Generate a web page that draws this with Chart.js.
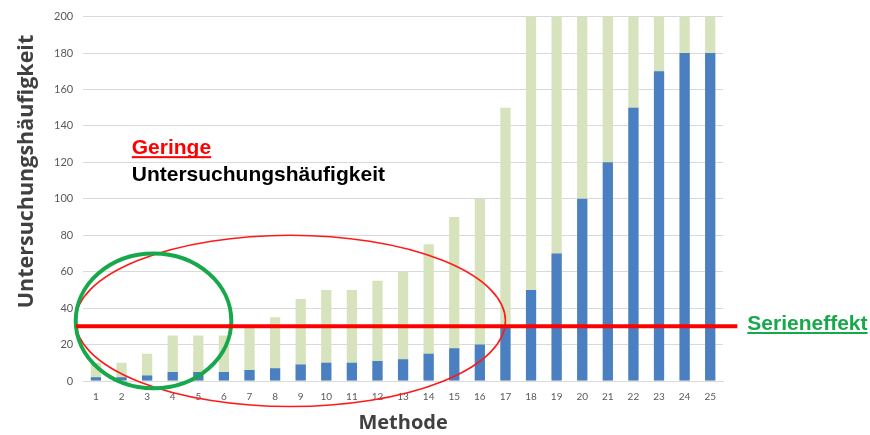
<!DOCTYPE html>
<html>
<head>
<meta charset="utf-8">
<script src="https://cdn.jsdelivr.net/npm/chart.js@4/dist/chart.umd.min.js"></script>
<style>
  body { margin: 0; background: #fff; }
</style>
</head>
<body>
<canvas id="methodChart" width="870" height="435"></canvas>
<script>
// ================================================================
// Data
// ================================================================
const methods = ['1', '2', '3', '4', '5', '6', '7', '8', '9', '10', '11', '12', '13',
  '14', '15', '16', '17', '18', '19', '20', '21', '22', '23', '24', '25'];

// blue part (front)
const blueValues = [2, 2, 3, 5, 5, 5, 6, 7, 9, 10, 10, 11, 12,
  15, 18, 20, 30, 50, 70, 100, 120, 150, 170, 180, 180];

// light green part (total, behind)
const greenValues = [10, 10, 15, 25, 25, 25, 30, 35, 45, 50, 50, 55, 60,
  75, 90, 100, 150, 200, 200, 200, 200, 200, 200, 200, 200];

const yTicks = [0, 20, 40, 60, 80, 100, 120, 140, 160, 180, 200];

const serienLevel = 30;

// ================================================================
// Annotation plugin (ellipses, line, texts) in data units
// ================================================================
const overlayPlugin = {
  id: 'overlay',
  afterDatasetsDraw(chart) {
    const ctx = chart.ctx;
    const x = chart.scales.x;
    const y = chart.scales.y;
    const step = x.getPixelForValue(1) - x.getPixelForValue(0);
    const unit = y.getPixelForValue(0) - y.getPixelForValue(1);

    function ellipse(cx, cy, rx, ry, color, width) {
      ctx.save();
      ctx.beginPath();
      ctx.ellipse(x.getPixelForValue(0) + cx * step, y.getPixelForValue(cy),
        rx * step, ry * unit, 0, 0, Math.PI * 2);
      ctx.strokeStyle = color;
      ctx.lineWidth = width;
      ctx.stroke();
      ctx.restore();
    }

    function label(text, ix, val, color, underline) {
      ctx.save();
      ctx.font = 'bold 21px "Liberation Sans", Arial, sans-serif';
      ctx.fillStyle = color;
      ctx.textBaseline = 'alphabetic';
      const px = x.getPixelForValue(0) + ix * step;
      const py = y.getPixelForValue(val);
      ctx.fillText(text, px, py);
      if (underline) {
        const w = ctx.measureText(text).width;
        ctx.fillRect(px, py + 2, w, 2);
      }
      ctx.restore();
    }

    // red ellipse
    ellipse(7.6, 33, 8.4, 47, '#ff1a1a', 1.6);
    // green circle
    ellipse(2.25, 33, 3.04, 37, '#16a84a', 4);

    // red level line
    ctx.save();
    ctx.beginPath();
    ctx.moveTo(x.getPixelForValue(0) - 0.78 * step, y.getPixelForValue(serienLevel));
    ctx.lineTo(x.getPixelForValue(0) + 25.06 * step, y.getPixelForValue(serienLevel));
    ctx.strokeStyle = '#ff0000';
    ctx.lineWidth = 4;
    ctx.stroke();
    ctx.restore();

    label('Geringe', 1.4, 124.5, '#ff0000', true);
    label('Untersuchungshäufigkeit', 1.4, 110, '#000000', false);
    label('Serieneffekt', 25.45, 28, '#16a84a', true);
  },
  afterDraw(chart) {
    // y axis title, sits a bit above the middle like in the slide
    const ctx = chart.ctx;
    const y = chart.scales.y;
    ctx.save();
    ctx.translate(27, y.getPixelForValue(115));
    ctx.rotate(-Math.PI / 2);
    ctx.font = 'bold 21.5px "Open Sans", sans-serif';
    ctx.fillStyle = '#404040';
    ctx.textAlign = 'center';
    ctx.textBaseline = 'middle';
    ctx.fillText('Untersuchungshäufigkeit', 0, 0);
    ctx.restore();
  }
};

// ================================================================
// Chart
// ================================================================
new Chart(document.getElementById('methodChart'), {
  type: 'bar',
  data: {
    labels: methods,
    datasets: [{
      label: 'Serie 1',
      backgroundColor: '#4a7fc1',
      data: blueValues
    }, {
      label: 'Serie 2',
      backgroundColor: '#d6e3bc',
      data: greenValues
    }]
  },
  options: {
    responsive: false,
    animation: false,
    layout: { padding: { left: 44, right: 147, top: 8, bottom: 0 } },
    plugins: {
      legend: { display: false },
      tooltip: { enabled: false }
    },
    datasets: {
      bar: { barPercentage: 0.4, categoryPercentage: 1.0 }
    },
    scales: {
      x: {
        stacked: true,
        grid: { display: false },
        border: { display: true, color: '#d9d9d9' },
        ticks: { color: '#595959', font: { family: 'Lato', size: 10 }, padding: 2 },
        title: {
          display: true,
          text: 'Methode',
          color: '#404040',
          font: { family: '"Open Sans"', size: 20, weight: 'bold' },
          padding: { top: 6, bottom: 0 }
        }
      },
      y: {
        stacked: false,
        min: 0,
        max: 200,
        afterBuildTicks(scale) {
          scale.ticks = yTicks.map(v => ({ value: v }));
        },
        grid: { color: '#d9d9d9', drawTicks: false },
        border: { display: false },
        ticks: { color: '#595959', font: { family: 'Lato', size: 11 }, padding: 10 }
      }
    }
  },
  plugins: [overlayPlugin]
});
</script>
</body>
</html>
